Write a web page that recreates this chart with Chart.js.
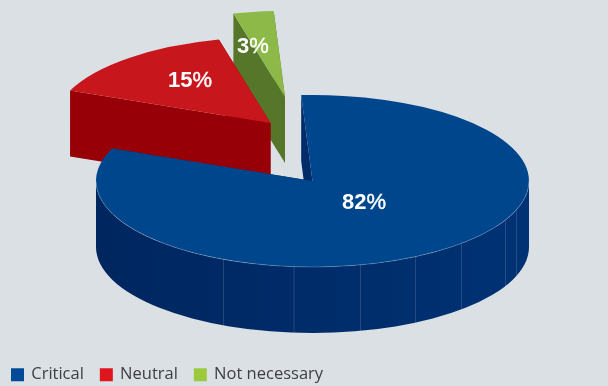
<!DOCTYPE html>
<html>
<head>
<meta charset="utf-8">
<title>Pie</title>
<script src="https://cdn.jsdelivr.net/npm/chart.js@4"></script>
<style>
  html, body { margin: 0; padding: 0; background: #dbe0e4; }
  canvas { display: block; }
</style>
</head>
<body>
<canvas id="myChart" width="608" height="386"></canvas>
<script>
const categories = ['Critical', 'Neutral', 'Not necessary'];
const values = [82, 15, 3];

const topColors = ['#00468c', '#c8161d', '#8cb947'];
const sideColors = [['#00265f', '#003274'], ['#960006', '#960006'], ['#56772a', '#56772a']];
const legendColors = ['#004a98', '#e0161e', '#9bcb3c'];

// pie geometry: the flattened disc and how far each slice is pulled out of it
const radiusX = 216.5, radiusY = 86, depth = 66;
const hub = { x: 312.5, y: 181 };
const pull = [[0, 0], [-42, -58], [-27.5, -84]];
const labelOffset = [[29.5, 28], [-102.5, -36], [-48, -44]];
const drawOrder = [2, 1, 0];
const wallSeams = [223, 293.5, 360, 415, 461, 505, 516];

const squash = radiusY / radiusX;

function wallFill(ctx, i) {
    const g = ctx.createLinearGradient(hub.x - radiusX, 0, hub.x + radiusX, 0);
    g.addColorStop(0, sideColors[i][0]);
    g.addColorStop(1, sideColors[i][1]);
    return g;
}

function drawFace(ctx, x, y, angle) {
    const ex = x + radiusX * Math.cos(angle), ey = y + radiusY * Math.sin(angle);
    ctx.beginPath();
    ctx.moveTo(x, y);
    ctx.lineTo(ex, ey);
    ctx.lineTo(ex, ey + depth);
    ctx.lineTo(x, y + depth);
    ctx.closePath();
    ctx.fill();
}

function drawWall(ctx, x, y, from, to) {
    ctx.beginPath();
    ctx.ellipse(x, y, radiusX, radiusY, 0, from, to);
    ctx.ellipse(x, y + depth, radiusX, radiusY, 0, to, from, true);
    ctx.closePath();
    ctx.fill();
}

const solidPie = {
    id: 'solidPie',
    afterDatasetsUpdate(chart) {
        // the arcs live in squashed space, the y scale is put back when drawing
        chart.getDatasetMeta(0).data.forEach((arc, i) => {
            arc.x = hub.x + pull[i][0];
            arc.y = (hub.y + pull[i][1]) / squash;
        });
    },
    afterLayout(chart) {
        // legend sits tight in the bottom left corner
        chart.legend.left -= 5;
        chart.legend.top += 7;
    },
    beforeDatasetsDraw(chart) {
        const ctx = chart.ctx;
        const arcs = chart.getDatasetMeta(0).data;

        drawOrder.forEach(i => {
            const arc = arcs[i];
            const x = arc.x, y = arc.y * squash;
            const from = Math.max(arc.startAngle, 0), to = Math.min(arc.endAngle, Math.PI);

            ctx.save();
            ctx.fillStyle = wallFill(ctx, i);
            drawFace(ctx, x, y, arc.startAngle);
            drawFace(ctx, x, y, arc.endAngle);
            if (from < to) drawWall(ctx, x, y, from, to);
            ctx.restore();

            ctx.save();
            ctx.scale(1, squash);
            arc.draw(ctx);
            ctx.restore();

            ctx.save();
            ctx.strokeStyle = 'rgba(255,255,255,0.28)';
            ctx.lineWidth = 0.8;
            if (from < to) {
                ctx.beginPath();
                ctx.ellipse(x, y, radiusX, radiusY, 0, from, to);
                ctx.stroke();
            }
            ctx.restore();
        });

        // facet lines on the front wall of the big slice
        ctx.save();
        ctx.strokeStyle = 'rgba(255,255,255,0.14)';
        ctx.lineWidth = 1;
        wallSeams.forEach(sx => {
            const t = (sx - hub.x) / radiusX;
            const sy = hub.y + radiusY * Math.sqrt(1 - t * t);
            ctx.beginPath();
            ctx.moveTo(sx + 0.5, sy);
            ctx.lineTo(sx + 0.5, sy + depth);
            ctx.stroke();
        });
        ctx.restore();

        // value labels, number heavy and percent sign lighter
        ctx.save();
        ctx.fillStyle = '#ffffff';
        ctx.strokeStyle = '#ffffff';
        ctx.textBaseline = 'alphabetic';
        ctx.textAlign = 'left';
        values.forEach((v, i) => {
            const lx = arcs[i].x + labelOffset[i][0];
            const ly = arcs[i].y * squash + labelOffset[i][1];
            ctx.font = 'bold 22px "Liberation Sans"';
            ctx.fillText(String(v), lx, ly);
            const w = ctx.measureText(String(v)).width;
            ctx.font = '22px "Liberation Sans"';
            ctx.lineWidth = 0.4;
            ctx.fillText('%', lx + w, ly);
            ctx.strokeText('%', lx + w, ly);
        });
        ctx.restore();
        return false;
    }
};

new Chart(document.getElementById('myChart').getContext('2d'), {
    type: 'pie',
    data: {
        labels: categories,
        datasets: [{
            data: values,
            backgroundColor: topColors,
            borderWidth: 0,
            radius: radiusX
        }]
    },
    options: {
        responsive: false,
        animation: false,
        events: [],
        rotation: -3,
        plugins: {
            tooltip: { enabled: false },
            legend: {
                position: 'bottom',
                align: 'start',
                labels: {
                    boxWidth: 11,
                    boxHeight: 11,
                    padding: 17,
                    color: '#3d3d45',
                    font: { family: '"Open Sans"', size: 16.5 },
                    generateLabels: chart => chart.data.labels.map((text, i) => ({
                        text: text,
                        fillStyle: legendColors[i],
                        strokeStyle: legendColors[i],
                        lineWidth: 2,
                        fontColor: '#3d3d45',
                        index: i
                    }))
                }
            }
        }
    },
    plugins: [solidPie]
});
</script>
</body>
</html>
